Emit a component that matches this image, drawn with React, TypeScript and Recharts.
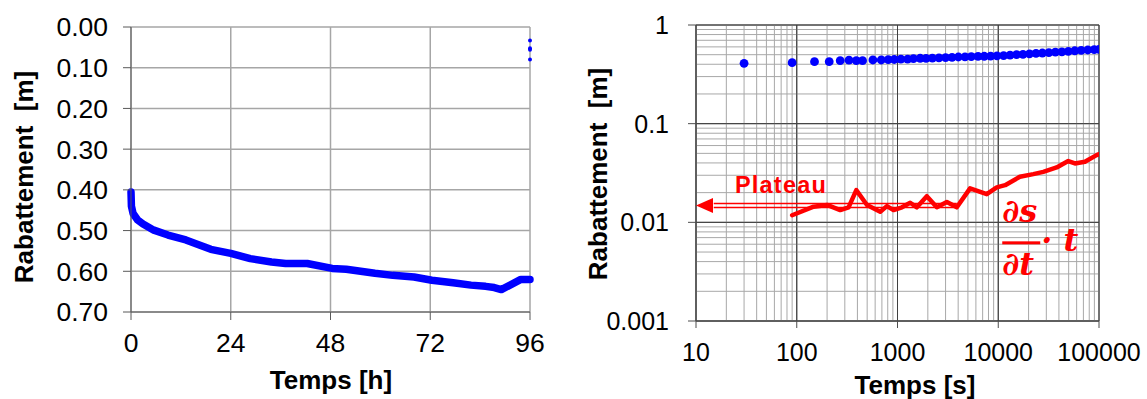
import { ComposedChart, Line, Scatter, XAxis, YAxis, CartesianGrid, ReferenceLine, ReferenceDot } from 'recharts'

const FONT = '"Liberation Sans", Arial, sans-serif'
const BLUE = '#0000ff'
const RED = '#ff0000'

// essai de pompage : rabattement (m) en fonction du temps (h)
const hours = [0, 0.1, 0.5, 1.6, 2.9, 5.5, 8.9, 13.2, 16.6, 19.2, 24, 28.7, 33.8, 37.2, 42.4, 48.4, 51.8, 58.7, 63, 68.1, 72.4, 77.5, 81.8, 85.3, 87.4, 89.1, 91.2, 93.8, 96]
const drawdown = [0.405, 0.44, 0.458, 0.474, 0.484, 0.499, 0.511, 0.523, 0.536, 0.546, 0.556, 0.569, 0.577, 0.581, 0.581, 0.593, 0.595, 0.605, 0.61, 0.614, 0.622, 0.628, 0.634, 0.637, 0.64, 0.645, 0.634, 0.62, 0.62]
// points isolés en fin d'essai
const spikeHours = [96, 96, 96, 96]
const spikeValues = [0.033, 0.052, 0.056, 0.08]

const hourTicks = [0, 24, 48, 72, 96]
const drawdownTicks = [0, 0.1, 0.2, 0.3, 0.4, 0.5, 0.6, 0.7]

// diagramme log-log : rabattement (m) en fonction du temps (s)
const seconds = [30, 90, 150, 210, 270, 330, 390, 450, 570, 690, 810, 930, 1080, 1260, 1440, 1680, 1920, 2220, 2580, 3000, 3480, 4020, 4680, 5400, 6300, 7260, 8400, 9720, 11300, 13100, 15200, 17600, 20400, 23700, 27400, 31800, 36900, 42800, 49600, 57500, 66700, 77400, 89700, 100000]
const drawdownLog = [0.409, 0.415, 0.425, 0.425, 0.435, 0.44, 0.435, 0.435, 0.442, 0.442, 0.445, 0.447, 0.45, 0.452, 0.456, 0.46, 0.458, 0.462, 0.465, 0.468, 0.47, 0.474, 0.476, 0.478, 0.48, 0.482, 0.484, 0.487, 0.49, 0.495, 0.5, 0.505, 0.51, 0.515, 0.52, 0.525, 0.53, 0.535, 0.54, 0.548, 0.553, 0.558, 0.562, 0.567]
// dérivée ds/dt · t
const derivSeconds = [90, 147, 200, 270, 327, 390, 498, 674, 785, 913, 1107, 1337, 1556, 1954, 2457, 3090, 3880, 5250, 7690, 9660, 11700, 16400, 22300, 28000, 38000, 49500, 57700, 72500, 94600, 100000]
const derivValues = [0.0118, 0.0144, 0.015, 0.0133, 0.0142, 0.0212, 0.015, 0.0128, 0.0146, 0.0133, 0.0142, 0.0158, 0.0142, 0.0184, 0.0142, 0.0161, 0.0142, 0.0221, 0.0193, 0.0226, 0.0238, 0.029, 0.0308, 0.0325, 0.036, 0.0418, 0.0395, 0.0411, 0.048, 0.049]
// niveau du plateau
const plateauStart = 15
const plateauEnd = 3880
const plateauLow = 0.01416
const plateauHigh = 0.01556
const plateauMid = 0.01484

const secondTicks = [10, 100, 1000, 10000, 100000]
const logTicks = [0.001, 0.01, 0.1, 1]
const minorSteps = [2, 3, 4, 5, 6, 7, 8, 9]
const minorSeconds = [10, 100, 1000, 10000].flatMap(d => minorSteps.map(m => m * d))
const minorLog = [0.001, 0.01, 0.1].flatMap(d => minorSteps.map(m => +(m * d).toPrecision(3)))

const lineData = hours.map((h, i) => ({ h, s: drawdown[i] }))
const spikeData = spikeHours.map((h, i) => ({ h, s: spikeValues[i] }))
const logData = seconds.map((t, i) => ({ t, s: drawdownLog[i] }))
const derivData = derivSeconds.map((t, i) => ({ t, d: derivValues[i] }))

const tickStyle = { fontSize: 26.5, fill: '#000', fontFamily: FONT }
const tickStyleR = { fontSize: 25, fill: '#000', fontFamily: FONT }
const titleStyle = { fontSize: 26, fontWeight: 700, fill: '#000', fontFamily: FONT, whiteSpace: 'pre' as const }

const smallDot = (p: any) => <circle cx={p.cx} cy={p.cy} r={2} fill={BLUE} />
const bigDot = (p: any) => <circle cx={p.cx} cy={p.cy} r={4.4} fill={BLUE} />

const arrowHead = (p: any) => (
  <g>
    <polygon points={`${p.cx},${p.cy} ${p.cx + 17},${p.cy - 7.5} ${p.cx + 17},${p.cy + 7.5}`} fill={RED} />
    <text x={p.cx + 39} y={p.cy - 12} fill={RED} fontSize={23.5} fontWeight={700} fontFamily={FONT} letterSpacing={1.2}>
      Plateau
    </text>
  </g>
)

const formula = (p: any) => {
  const f = { fill: RED, fontSize: 32, fontWeight: 700, fontStyle: 'italic', fontFamily: '"DejaVu Serif", serif', style: { whiteSpace: 'pre' as const } }
  return (
    <g>
      <text x={p.cx + 4} y={p.cy} {...f}>∂s</text>
      <rect x={p.cx + 4} y={p.cy + 19} width={38} height={3} fill={RED} />
      <text x={p.cx + 4} y={p.cy + 53} {...f}>∂t</text>
      <text x={p.cx + 43} y={p.cy + 29} {...f}>· t</text>
    </g>
  )
}

function LeftChart() {
  return (
    <ComposedChart width={560} height={399} margin={{ top: 27, right: 30, bottom: 0, left: 0 }}>
      <CartesianGrid stroke="#a6a6a6" strokeWidth={1.5} />
      <XAxis
        type="number"
        dataKey="h"
        domain={[0, 96]}
        ticks={hourTicks}
        interval={0}
        tick={tickStyle}
        tickSize={8}
        tickMargin={13}
        stroke="#595959"
        height={87}
        label={{ content: () => <text x={331} y={389} textAnchor="middle" style={titleStyle}>Temps [h]</text> }}
      />
      <YAxis
        type="number"
        domain={[0, 0.7]}
        reversed
        ticks={drawdownTicks}
        interval={0}
        tickFormatter={(v: number) => v.toFixed(2)}
        tick={tickStyle}
        tickSize={8}
        tickMargin={15}
        stroke="#595959"
        width={131}
        label={{
          content: () => (
            <text x={33} y={177} textAnchor="middle" transform="rotate(-90 33 177)" style={titleStyle}>
              {'Rabattement  [m]'}
            </text>
          ),
        }}
      />
      <Line data={lineData} dataKey="s" stroke={BLUE} strokeWidth={7.5} strokeLinecap="round" strokeLinejoin="round" dot={false} isAnimationActive={false} />
      <Scatter data={spikeData} dataKey="s" fill={BLUE} shape={smallDot} isAnimationActive={false} />
    </ComposedChart>
  )
}

function RightChart() {
  return (
    <ComposedChart width={587} height={399} margin={{ top: 25, right: 48, bottom: 0, left: 0 }}>
      {minorSeconds.map(v => (
        <ReferenceLine key={'mx' + v} x={v} stroke="#a8a8a8" strokeWidth={1} />
      ))}
      {minorLog.map(v => (
        <ReferenceLine key={'my' + v} y={v} stroke="#a8a8a8" strokeWidth={1} />
      ))}
      <CartesianGrid stroke="#4d4d4d" />
      <XAxis
        type="number"
        scale="log"
        dataKey="t"
        domain={[10, 100000]}
        allowDataOverflow
        ticks={secondTicks}
        interval={0}
        tick={tickStyleR}
        tickSize={7}
        tickMargin={15}
        stroke="#4d4d4d"
        height={78}
        label={{ content: () => <text x={355} y={394} textAnchor="middle" style={titleStyle}>Temps [s]</text> }}
      />
      <YAxis
        type="number"
        scale="log"
        domain={[0.001, 1]}
        allowDataOverflow
        ticks={logTicks}
        interval={0}
        tickFormatter={(v: number) => String(v)}
        tick={tickStyleR}
        tickSize={8}
        tickMargin={19}
        stroke="#4d4d4d"
        width={136}
        label={{
          content: () => (
            <text x={47} y={174} textAnchor="middle" transform="rotate(-90 47 174)" style={titleStyle}>
              {'Rabattement  [m]'}
            </text>
          ),
        }}
      />
      {secondTicks.map(v => (
        <ReferenceLine key={'Mx' + v} x={v} stroke="#404040" strokeWidth={1} />
      ))}
      {logTicks.map(v => (
        <ReferenceLine key={'My' + v} y={v} stroke="#404040" strokeWidth={1} />
      ))}
      <ReferenceLine segment={[{ x: plateauStart, y: plateauHigh }, { x: plateauEnd, y: plateauHigh }]} stroke={RED} strokeWidth={1.5} />
      <ReferenceLine segment={[{ x: plateauStart, y: plateauLow }, { x: plateauEnd, y: plateauLow }]} stroke={RED} strokeWidth={1.5} />
      <ReferenceDot x={10} y={plateauMid} r={0} ifOverflow="visible" shape={arrowHead} />
      <ReferenceDot x={10000} y={0.01} r={0} ifOverflow="visible" shape={formula} />
      <Line data={derivData} dataKey="d" stroke={RED} strokeWidth={4.5} strokeLinejoin="round" strokeLinecap="round" dot={false} isAnimationActive={false} />
      <Scatter data={logData} dataKey="s" fill={BLUE} shape={bigDot} isAnimationActive={false} />
    </ComposedChart>
  )
}

export default function App() {
  return (
    <div style={{ position: 'absolute', left: 0, top: 0, width: 1147, height: 399, background: '#fff', fontFamily: FONT }}>
      <div style={{ position: 'absolute', left: 0, top: 0 }}>
        <LeftChart />
      </div>
      <div style={{ position: 'absolute', left: 560, top: 0 }}>
        <RightChart />
      </div>
    </div>
  )
}
